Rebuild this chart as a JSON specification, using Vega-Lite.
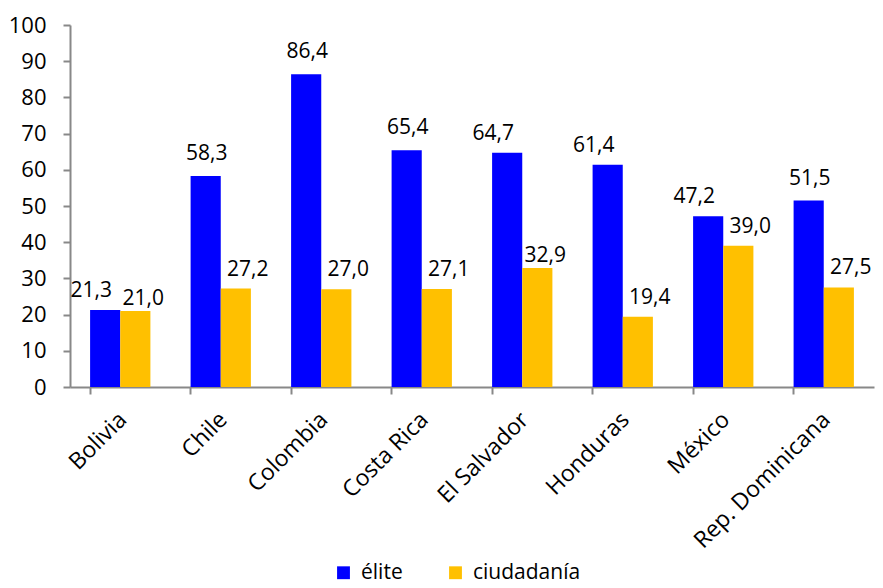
{
  "$schema": "https://vega.github.io/schema/vega-lite/v6.json",
  "width": 804,
  "height": 362,
  "autosize": {"type": "none"},
  "padding": {"left": 70, "top": 25, "right": 9, "bottom": 201},
  "config": {
    "locale": {"number": {"decimal": ",", "thousands": ".", "grouping": [3], "currency": ["", ""]}},
    "view": {"stroke": null},
    "font": "Open Sans",
    "axis": {"labelFont": "Open Sans", "labelColor": "#000"},
    "text": {"font": "Open Sans", "fontSize": 21, "color": "#000", "baseline": "alphabetic"}
  },
  "data": {
    "values": [
      {"pais": "Bolivia", "serie": "élite", "valor": 21.3},
      {"pais": "Bolivia", "serie": "ciudadanía", "valor": 21.0},
      {"pais": "Chile", "serie": "élite", "valor": 58.3},
      {"pais": "Chile", "serie": "ciudadanía", "valor": 27.2},
      {"pais": "Colombia", "serie": "élite", "valor": 86.4},
      {"pais": "Colombia", "serie": "ciudadanía", "valor": 27.0},
      {"pais": "Costa Rica", "serie": "élite", "valor": 65.4},
      {"pais": "Costa Rica", "serie": "ciudadanía", "valor": 27.1},
      {"pais": "El Salvador", "serie": "élite", "valor": 64.7},
      {"pais": "El Salvador", "serie": "ciudadanía", "valor": 32.9},
      {"pais": "Honduras", "serie": "élite", "valor": 61.4},
      {"pais": "Honduras", "serie": "ciudadanía", "valor": 19.4},
      {"pais": "México", "serie": "élite", "valor": 47.2},
      {"pais": "México", "serie": "ciudadanía", "valor": 39.0},
      {"pais": "Rep. Dominicana", "serie": "élite", "valor": 51.5},
      {"pais": "Rep. Dominicana", "serie": "ciudadanía", "valor": 27.5}
    ]
  },
  "encoding": {
    "x": {
      "field": "pais", "type": "nominal", "sort": null, "title": null,
      "scale": {"paddingInner": 0.4, "paddingOuter": 0.2},
      "axis": {"labelAngle": -45, "labelAlign": "right", "labelBaseline": "top", "labelFontSize": 23, "labelLimit": 0, "domainColor": "#888", "domainWidth": 2, "tickColor": "#888", "tickWidth": 2, "tickSize": 7, "bandPosition": 0, "labelPadding": 14, "labelOffset": -5}
    },
    "xOffset": {"field": "serie", "type": "nominal", "sort": ["élite", "ciudadanía"]},
    "y": {
      "field": "valor", "type": "quantitative", "title": null,
      "scale": {"domain": [0, 100], "nice": false},
      "axis": {"values": [0, 10, 20, 30, 40, 50, 60, 70, 80, 90, 100], "format": "d", "grid": false, "labelFontSize": 22, "domainColor": "#888", "domainWidth": 2, "tickColor": "#888", "tickWidth": 2, "tickSize": 7, "labelPadding": 17}
    }
  },
  "layer": [
    {
      "mark": {"type": "bar"},
      "encoding": {
        "color": {
          "field": "serie", "type": "nominal", "sort": ["élite", "ciudadanía"],
          "scale": {"domain": ["élite", "ciudadanía"], "range": ["#0000FF", "#FFC000"]},
          "legend": {"title": null, "orient": "none", "legendX": 263, "legendY": 537, "direction": "horizontal", "symbolType": "square", "symbolSize": 165, "symbolStrokeWidth": 0, "labelFontSize": 21, "labelFont": "Open Sans", "labelColor": "#000", "columnPadding": 42, "labelOffset": 7}
        }
      }
    },
    {
      "transform": [{"filter": {"and": [{"field": "serie", "equal": "élite"}, {"field": "pais", "oneOf": ["Chile", "Colombia", "Costa Rica", "Rep. Dominicana"]}]}}],
      "mark": {"type": "text", "dx": 1, "dy": -16},
      "encoding": {"text": {"field": "valor", "type": "quantitative", "format": ".1f"}}
    },
    {
      "transform": [{"filter": {"and": [{"field": "serie", "equal": "élite"}, {"field": "pais", "oneOf": ["Bolivia", "El Salvador", "Honduras", "México"]}]}}],
      "mark": {"type": "text", "dx": -14, "dy": -13},
      "encoding": {"text": {"field": "valor", "type": "quantitative", "format": ".1f"}}
    },
    {
      "transform": [{"filter": {"and": [{"field": "serie", "equal": "ciudadanía"}, {"field": "pais", "oneOf": ["Chile", "Colombia", "Costa Rica", "Honduras", "México", "Rep. Dominicana"]}]}}],
      "mark": {"type": "text", "dx": 12, "dy": -13},
      "encoding": {"text": {"field": "valor", "type": "quantitative", "format": ".1f"}}
    },
    {
      "transform": [{"filter": {"and": [{"field": "serie", "equal": "ciudadanía"}, {"field": "pais", "oneOf": ["Bolivia", "El Salvador"]}]}}],
      "mark": {"type": "text", "dx": 8, "dy": -6},
      "encoding": {"text": {"field": "valor", "type": "quantitative", "format": ".1f"}}
    }
  ]
}
